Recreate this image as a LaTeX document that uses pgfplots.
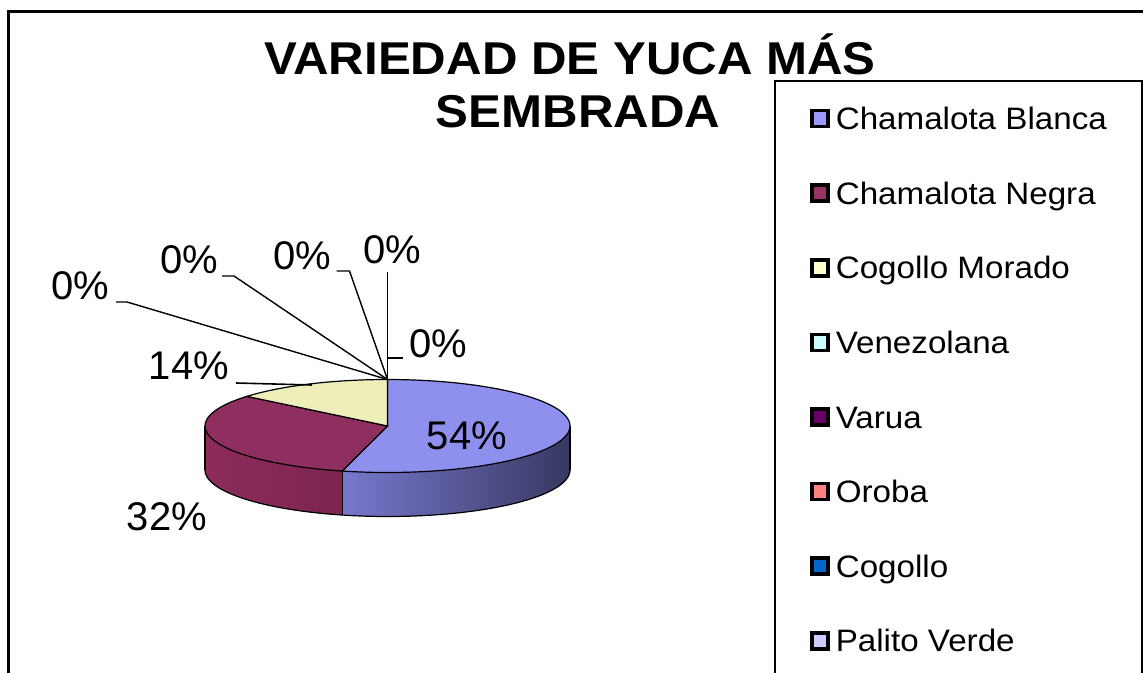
\documentclass[border=0pt]{standalone}
\usepackage{pgfplots}
\pgfplotsset{compat=1.18}
\usepackage{fontspec}
\setmainfont{Liberation Sans}
\newfontfamily\titlefont[FakeStretch=1.07]{Liberation Sans}
\newfontfamily\legfont[FakeStretch=1.07]{Liberation Sans}

\definecolor{topA}{RGB}{143,143,238}
\definecolor{topB}{RGB}{143,47,95}
\definecolor{topC}{RGB}{238,238,187}
\definecolor{sideAl}{RGB}{120,120,206}
\definecolor{sideAr}{RGB}{56,56,98}
\definecolor{sideBl}{RGB}{140,44,92}
\definecolor{sideBr}{RGB}{124,37,78}
\definecolor{legA}{RGB}{153,153,255}
\definecolor{legB}{RGB}{153,51,102}
\definecolor{legC}{RGB}{255,255,204}
\definecolor{legD}{RGB}{204,255,255}
\definecolor{legE}{RGB}{102,0,102}
\definecolor{legF}{RGB}{255,128,128}
\definecolor{legG}{RGB}{0,102,204}
\definecolor{legH}{RGB}{204,204,255}

% data (percent)
\def\vA{54}% Chamalota Blanca
\def\vB{32}% Chamalota Negra
\def\vC{14}% Cogollo Morado
\def\vD{0}% Venezolana
\def\vE{0}% Varua
\def\vF{0}% Oroba
\def\vG{0}% Cogollo
\def\vH{0}% Palito Verde

% geometry (pixel units)
\def\cx{387.5}\def\cy{426}\def\rx{182.5}\def\ry{46.5}\def\pdep{44}
\pgfmathsetmacro\aA{90}
\pgfmathsetmacro\aB{\aA-3.6*\vA}
\pgfmathsetmacro\aC{\aB-3.6*\vB}
\pgfmathsetmacro\aD{\aC-3.6*\vC}
\pgfmathsetmacro\xL{\cx-\rx}
\pgfmathsetmacro\xR{\cx+\rx}
\pgfmathsetmacro\xM{\cx+\rx*cos(\aB)}
\pgfmathsetmacro\yM{\cy-\ry*sin(\aB)}
\pgfmathsetmacro\yMb{\yM+\pdep}
\pgfmathsetmacro\yEb{\cy+\pdep}
\pgfmathsetmacro\yTop{\cy-\ry}

\pgfplotsset{sq legend/.style={legend image code/.code={\draw[##1,draw=black,line width=3.6pt] (0pt,-8pt) rectangle (16pt,8pt);}}}

\begin{document}
\begin{tikzpicture}
\begin{axis}[
  width=1143pt, height=672pt, scale only axis,
  xmin=0, xmax=1143, ymin=0, ymax=672, y dir=reverse,
  axis lines=none, clip=false,
  legend cell align=left,
  legend style={at={(axis cs:774,80)}, anchor=north west, draw=black, line width=2.4pt,
    font=\legfont\fontsize{31}{36}\selectfont,
    inner xsep=35pt, inner ysep=0pt, row sep=0pt, column sep=6pt,
    nodes={inner sep=0pt, text height=48.4pt, text depth=26.2pt}},
]
\addlegendimage{sq legend, fill=legA}\addlegendentry{Chamalota Blanca}
\addlegendimage{sq legend, fill=legB}\addlegendentry{Chamalota Negra}
\addlegendimage{sq legend, fill=legC}\addlegendentry{Cogollo Morado}
\addlegendimage{sq legend, fill=legD}\addlegendentry{Venezolana}
\addlegendimage{sq legend, fill=legE}\addlegendentry{Varua}
\addlegendimage{sq legend, fill=legF}\addlegendentry{Oroba}
\addlegendimage{sq legend, fill=legG}\addlegendentry{Cogollo}
\addlegendimage{sq legend, fill=legH}\addlegendentry{Palito Verde}

% outer frame
\draw[line width=3pt] (axis cs:8,700) -- (axis cs:8,11) -- (axis cs:1160,11);

% side faces (top arc, vertical edge, bottom arc back)
\addplot[forget plot, draw=none, left color=sideBl, right color=sideBr, domain=0:2, samples=201, variable=\t]
 ({\cx+\rx*cos(-180+(\aB+180)*min(\t/0.95,(2-\t)/0.95,1))},
  {\cy-\ry*sin(-180+(\aB+180)*min(\t/0.95,(2-\t)/0.95,1))+\pdep*max(0,min(1,(\t-0.95)/0.1))});
\addplot[forget plot, draw=none, left color=sideAl, right color=sideAr, domain=0:2, samples=201, variable=\t]
 ({\cx+\rx*cos(\aB+(0-\aB)*min(\t/0.95,(2-\t)/0.95,1))},
  {\cy-\ry*sin(\aB+(0-\aB)*min(\t/0.95,(2-\t)/0.95,1))+\pdep*max(0,min(1,(\t-0.95)/0.1))});
% side outlines
\addplot[forget plot, draw=black, line width=1.2pt, domain=-180:0, samples=90, variable=\t]
 ({\cx+\rx*cos(\t)}, {\cy-\ry*sin(\t)+\pdep});
\addplot[forget plot, black, line width=1.2pt] coordinates {(\xL,\cy) (\xL,\yEb)};
\addplot[forget plot, black, line width=1.2pt] coordinates {(\xR,\cy) (\xR,\yEb)};
\addplot[forget plot, black, line width=1.2pt] coordinates {(\xM,\yM) (\xM,\yMb)};

% top faces
\addplot[forget plot, fill=topA, draw=black, line width=1.2pt, domain=\aB:\aA, samples=90, variable=\t]
 ({\cx+\rx*cos(\t)}, {\cy-\ry*sin(\t)}) -- (axis cs:\cx,\cy) -- cycle;
\addplot[forget plot, fill=topB, draw=black, line width=1.2pt, domain=\aC:\aB, samples=60, variable=\t]
 ({\cx+\rx*cos(\t)}, {\cy-\ry*sin(\t)}) -- (axis cs:\cx,\cy) -- cycle;
\addplot[forget plot, fill=topC, draw=black, line width=1.2pt, domain=\aD:\aC, samples=30, variable=\t]
 ({\cx+\rx*cos(\t)}, {\cy-\ry*sin(\t)}) -- (axis cs:\cx,\cy) -- cycle;

% leader lines
\addplot[forget plot, black, line width=1.4pt] coordinates {(\cx,\yTop) (\cx,272)};
\addplot[forget plot, black, line width=1.4pt] coordinates {(\cx,\yTop) (\cx,358) (403,358)};
\addplot[forget plot, black, line width=1.4pt] coordinates {(\cx,\yTop) (349.5,271) (336.5,271)};
\addplot[forget plot, black, line width=1.4pt] coordinates {(\cx,\yTop) (234,276) (222,276)};
\addplot[forget plot, black, line width=1.4pt] coordinates {(\cx,\yTop) (127,302) (116,302)};
\addplot[forget plot, black, line width=1.6pt] coordinates {(312,385) (236,383)};

% labels
\begin{scope}[every node/.style={font=\fontsize{40}{48}\selectfont, inner sep=0pt}]
\node at (axis cs:467,436) {54\%};
\node at (axis cs:167,517) {32\%};
\node at (axis cs:189,366) {14\%};
\node at (axis cs:80,286) {0\%};
\node at (axis cs:189,260) {0\%};
\node at (axis cs:302,256) {0\%};
\node at (axis cs:392,250) {0\%};
\node at (axis cs:438,344) {0\%};
\end{scope}

% title
\node[anchor=base, inner sep=0pt, font=\titlefont\bfseries\fontsize{46}{50}\selectfont] at (axis cs:570,74) {VARIEDAD DE YUCA MÁS};
\node[anchor=base, inner sep=0pt, font=\titlefont\bfseries\fontsize{46}{50}\selectfont] at (axis cs:578,127) {SEMBRADA};
\end{axis}
\pgfresetboundingbox
\path (0,0) rectangle (1143pt,672pt);
\end{tikzpicture}
\end{document}
